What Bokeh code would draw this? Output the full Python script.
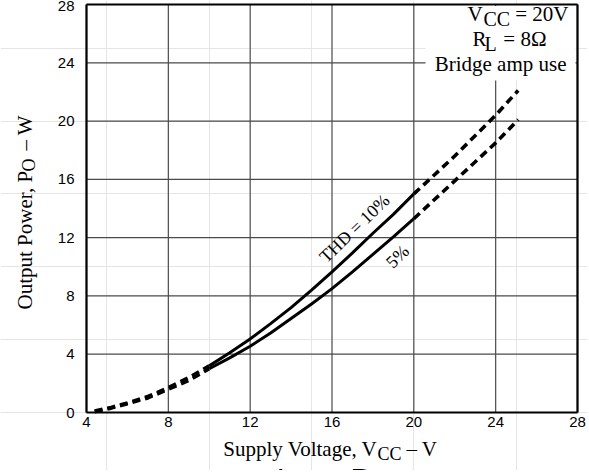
from bokeh.plotting import figure
from bokeh.models import Label, BoxAnnotation, FixedTicker, LinearAxis, Range1d
from bokeh.embed import file_html
from bokeh.resources import INLINE

# ---------------- data ----------------
x_ticks = [4, 8, 12, 16, 20, 24, 28]
y_ticks = [0, 4, 8, 12, 16, 20, 24, 28]

vcc = [4.4, 5.2, 6, 7, 8, 9, 10, 11, 12, 13, 14, 15, 16, 17, 18, 19, 20, 22, 24, 25.1]
po_thd10 = [0.1, 0.35, 0.65, 1.1, 1.7, 2.4, 3.2, 4.1, 5.05, 6.1, 7.2, 8.4, 9.65, 10.95, 12.3, 13.6, 15.0, 17.6, 20.4, 22.1]
po_thd5 = [0.05, 0.3, 0.6, 1.0, 1.6, 2.2, 3.0, 3.75, 4.55, 5.45, 6.45, 7.45, 8.5, 9.65, 10.85, 12.05, 13.3, 15.9, 18.5, 20.1]
solid_from, solid_to = 10, 20   # measured (solid) part of each curve

# ---------------- layout (canvas pixels) ----------------
W, H = 587, 470
FL, FR, FT, FB = 86, 577, 4, 412   # where the chart box sits on the canvas
SHIFT = 6                          # baseline correction for the text renderer


def dx(px):
    return x_ticks[0] + (px - FL) / (FR - FL) * (x_ticks[-1] - x_ticks[0])


def dy(py):
    return y_ticks[0] + (FB - py) / (FB - FT) * (y_ticks[-1] - y_ticks[0])


SERIF = "Liberation Serif"
SANS = "Liberation Sans"

p = figure(width=W, height=H, x_range=Range1d(dx(0), dx(W)), y_range=Range1d(dy(H), dy(0)),
           x_axis_location=None, y_axis_location=None, min_border=0,
           output_backend="svg", toolbar_location=None, title=None)
p.background_fill_color = "white"
p.border_fill_color = "white"
p.outline_line_color = None

# grid lines, from the tick lists
x0, x1 = x_ticks[0], x_ticks[-1]
y0, y1 = y_ticks[0], y_ticks[-1]
p.segment(x0=x_ticks, y0=[y0] * len(x_ticks), x1=x_ticks, y1=[y1] * len(x_ticks),
          line_color="#4a4a4a", line_width=1.2)
p.segment(x0=[x0] * len(y_ticks), y0=y_ticks, x1=[x1] * len(y_ticks), y1=y_ticks,
          line_color="#4a4a4a", line_width=1.2)


def make_axis(loc, bounds, ticks):
    ax = LinearAxis(fixed_location=loc, bounds=bounds, ticker=FixedTicker(ticks=ticks))
    ax.major_tick_line_color = None
    ax.minor_tick_line_color = None
    ax.axis_line_color = "black"
    ax.axis_line_width = 2.2
    ax.major_label_text_font = SANS
    ax.major_label_text_font_size = "15px"
    ax.major_label_text_color = "black"
    return ax


xaxis = make_axis(y0, (x0, x1), x_ticks)
xaxis.major_label_standoff = -2
p.add_layout(xaxis, "below")
yaxis = make_axis(x0, (y0, y1), y_ticks)
yaxis.major_label_standoff = 6
p.add_layout(yaxis, "left")
p.add_layout(make_axis(y1, (x0, x1), []), "above")
p.add_layout(make_axis(x1, (y0, y1), []), "right")


def seg(xs, ys, lo, hi):
    pts = [(a, b) for a, b in zip(xs, ys) if lo <= a <= hi]
    return [a for a, _ in pts], [b for _, b in pts]


for ys in (po_thd10, po_thd5):
    xa, ya = seg(vcc, ys, -1e9, solid_from)
    p.line(xa, ya, line_color="black", line_width=3.6, line_dash="8 5")
    xa, ya = seg(vcc, ys, solid_from, solid_to)
    p.line(xa, ya, line_color="black", line_width=3)
    xa, ya = seg(vcc, ys, solid_to, 1e9)
    p.line(xa, ya, line_color="black", line_width=3.6, line_dash="8 5")

# white box behind the condition text
p.add_layout(BoxAnnotation(left=dx(425), right=dx(575), top=dy(5.5), bottom=dy(80),
                           fill_color="white", fill_alpha=1, line_color=None))


def lab(text, px, py, size, align="left", angle=0, font=SERIF, baseline="alphabetic"):
    p.add_layout(Label(x=dx(px), y=dy(py), text=text, text_font=font, text_font_size=f"{size}px",
                       text_align=align, text_baseline=baseline, text_color="black",
                       angle=angle, angle_units="deg"))


# condition text (top right)
lab("V", 467, 19 - SHIFT, 21)
lab("CC", 483, 24 - SHIFT, 20)
lab("= 20V", 568, 19 - SHIFT, 21, align="right")
lab("R", 472, 44 - SHIFT, 21)
lab("L", 484, 49 - SHIFT, 20)
lab("= 8Ω", 546, 44 - SHIFT, 21, align="right")
lab("Bridge amp use", 566, 69 - SHIFT, 21, align="right")

# curve labels
lab("THD = 10%", 354, 228, 18, align="center", angle=44, baseline="middle")
lab("5%", 397, 256, 18, align="center", angle=44, baseline="middle")

# x axis title
lab("Supply Voltage, V", 377, 454 - SHIFT, 21, align="right")
lab("CC", 377, 459 - SHIFT, 18)
lab("– V", 406, 454 - SHIFT, 21)

# y axis title (rotated)
lab("Output Power, P", 30 - SHIFT, 309, 21, angle=90)
lab("O", 34 - SHIFT, 171, 18, angle=90)
lab("– W", 30 - SHIFT, 150, 21, angle=90)

# top of the next chart's caption, cut off by the page edge
lab("I", 276, 461, 30, baseline="top", font=SANS)
lab("CC", 288, 464, 22, baseline="top", font=SANS)
lab("P", 350, 461, 30, baseline="top", font=SANS)
lab("O", 372, 464, 22, baseline="top", font=SANS)

open("out.html", "w").write(file_html(p, INLINE))
